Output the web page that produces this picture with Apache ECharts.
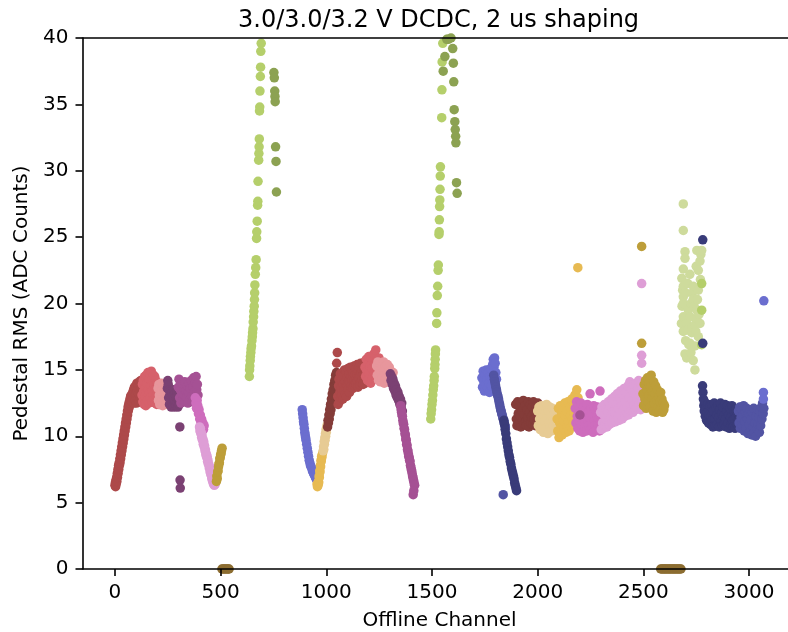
<!DOCTYPE html>
<html><head><meta charset="utf-8">
<script src="https://cdn.jsdelivr.net/npm/echarts@6/dist/echarts.min.js"></script>
<style>html,body{margin:0;padding:0;background:#fff;overflow:hidden}#c{width:788px;height:632px}</style>
</head><body><div id="c"></div>
<script>
// ---- tick labels ----
const xTicks = [0, 500, 1000, 1500, 2000, 2500, 3000];
const yTicks = [0, 5, 10, 15, 20, 25, 30, 35, 40];

// ---- data: [offline channel, pedestal RMS] ----
const seg01 = [[0,6.3],[2,6.5],[3,6.2],[5,6.7],[6,6.4],[8,6.9],[9,6.6],[11,7.2],[12,6.9],[14,7.5],[15,7.2],[17,7.8],[18,7.5],[20,8.0],[21,7.8],[23,8.3],[24,8.0],[26,8.6],[27,8.3],[29,8.9],[30,8.6],[32,9.2],[33,8.9],[35,9.5],[36,9.2],[38,9.8],[39,9.5],[41,10.1],[42,9.8],[44,10.4],[45,10.1],[47,10.7],[48,10.4],[50,11.0],[51,10.7],[53,11.3],[54,11.0],[56,11.6],[57,11.3],[59,11.9],[60,11.6],[62,12.2],[63,11.9],[65,12.4],[66,12.1],[68,12.6],[69,12.3],[71,12.8],[72,12.5],[74,13.0],[75,12.7],[77,13.1],[78,12.6],[80,13.0],[82,12.6],[84,13.3],[86,12.8],[88,13.5],[90,12.5],[92,13.7],[94,13.1],[96,12.7],[98,13.8],[100,13.2],[102,12.5],[104,14.0],[106,13.4],[108,12.8],[110,13.9],[112,13.2],[114,12.6],[116,14.1],[118,13.5],[120,12.9],[122,14.2],[124,13.6],[126,13.0]];
const seg02 = [[128,13.1],[130,13.9],[132,12.6],[134,14.2],[136,13.4],[138,12.4],[140,14.5],[142,13.0],[144,13.7],[146,12.3],[148,14.6],[150,13.3],[152,14.0],[154,12.7],[156,14.8],[158,13.5],[160,12.5],[162,14.3],[164,13.2],[166,14.7],[168,12.9],[170,13.8],[172,14.9],[174,13.4],[176,12.6],[178,14.4],[180,13.1],[182,14.6],[184,12.8],[186,13.9],[188,14.5],[190,12.5],[192,13.6],[194,14.2],[196,13.0],[198,12.4],[200,14.0],[202,13.3],[204,12.7],[206,13.8],[208,12.4],[210,13.5],[212,12.9]];
const seg03 = [[204,13.6],[206,12.7],[208,13.9],[210,13.1],[212,12.4],[214,13.7],[216,13.3],[218,12.6],[220,14.0],[222,12.9],[224,13.5],[226,12.3],[228,13.8],[230,13.0],[232,12.5],[234,13.6],[236,12.8],[238,13.9],[240,13.2],[242,12.4],[244,13.7],[246,12.9],[248,13.4],[250,12.6],[252,13.8],[254,13.1],[256,12.5],[258,13.3]];
const seg04 = [[248,13.6],[250,14.2],[252,13.9],[254,12.9],[256,13.5],[258,12.4],[260,13.1],[262,12.7],[264,13.4],[266,12.2],[268,12.9],[270,13.3],[272,12.5],[274,13.0],[276,12.3],[278,13.5],[280,12.8],[282,12.2],[284,13.2],[286,12.6],[288,13.0],[290,12.3],[292,12.9],[294,13.4],[296,12.5],[298,12.2],[300,12.8],[302,13.1],[304,12.4],[306,12.7],[307,10.7],[308,6.7],[309,6.1]];
const seg05 = [[300,13.7],[303,14.3],[306,12.9],[309,13.5],[312,12.5],[315,14.0],[318,13.2],[321,12.7],[324,13.9],[327,13.1],[330,14.1],[333,12.6],[336,13.4],[339,12.9],[342,13.8],[345,12.5],[348,13.3],[351,14.0],[354,12.8],[357,13.6],[360,14.2],[363,13.0],[366,12.6],[369,13.7],[372,14.4],[375,13.3],[378,12.9],[381,14.0],[384,14.5],[387,13.5],[390,13.9],[393,13.1]];
const seg06 = [[380,12.9],[383,12.5],[386,12.1],[389,12.7],[392,12.3],[395,11.7],[398,12.0],[401,11.3],[404,11.6],[407,11.0],[410,11.3],[413,10.7],[416,11.0],[419,10.5],[422,10.8]];
const seg07 = [[400,10.7],[402,10.4],[404,10.6],[406,10.2],[408,10.3],[410,9.9],[412,10.1],[414,9.7],[416,9.8],[418,9.4],[420,9.6],[422,9.2],[424,9.3],[426,8.9],[428,9.0],[430,8.6],[432,8.7],[434,8.4],[436,8.5],[438,8.1],[440,8.2],[442,7.9],[444,7.9],[446,7.6],[448,7.7],[450,7.3],[452,7.4],[454,7.1],[456,7.1],[458,6.8],[460,6.9],[462,6.6],[464,6.7],[466,6.4],[468,6.5],[470,6.3],[472,6.5],[475,6.4],[478,6.8]];
const seg08 = [[480,6.6],[482,7.0],[484,6.8],[486,7.3],[488,7.4],[490,7.7],[492,7.9],[494,8.0],[496,8.3],[498,8.4],[500,8.6],[502,8.7],[504,8.9],[507,9.1]];
const seg09 = [[506,0],[512,0],[518,0],[524,0],[530,0],[536,0],[540,0]];
const seg10 = [[636,14.5],[637,15.0],[638,15.3],[640,15.7],[641,16.0],[643,16.3],[644,16.6],[646,16.8],[648,17.2],[650,17.5],[651,17.8],[653,18.1],[654,18.6],[656,19.0],[657,19.4],[659,19.8],[660,20.3],[661,20.8],[662,21.4],[664,22.2],[666,22.7],[668,23.3],[670,24.9],[671,25.4],[673,26.2],[675,27.4],[676,27.7],[677,29.2],[680,30.8],[681,31.3],[682,31.8],[683,32.4],[684,34.5],[685,34.8],[686,36.0],[688,37.1],[689,37.8],[690,39.0],[692,39.6],[694,40.1]];
const seg11 = [[748,40.1],[752,37.4],[754,37.0],[756,36.0],[757,35.6],[758,35.2],[760,31.8],[762,30.7],[764,28.4]];
const seg12 = [[886,12.0],[888,11.7],[890,11.4],[892,11.1],[894,10.9],[896,10.6],[898,10.3],[900,10.1],[902,9.9],[904,9.7],[907,9.4],[910,9.1],[913,8.8],[916,8.5],[919,8.2],[922,8.0],[925,7.8],[928,7.7],[931,7.6],[934,7.4],[937,7.3],[940,7.2],[943,7.1],[946,7.0],[949,6.9],[952,6.8],[955,6.7],[958,6.6]];
const seg13 = [[956,6.4],[958,6.2],[961,6.3],[963,6.6],[964,6.5],[966,7.0],[967,6.9],[969,7.4],[970,7.3],[972,7.8],[973,7.7],[975,8.2],[976,8.1],[978,8.5],[979,8.4],[982,8.7]];
const seg14 = [[985,8.9],[987,9.2],[988,9.0],[990,9.6],[991,9.4],[993,9.9],[994,9.7],[996,10.2],[997,10.0],[999,10.5],[1000,10.3],[1003,10.8]];
const seg15 = [[1006,10.7],[1008,11.2],[1010,11.0],[1012,11.6],[1014,11.3],[1016,12.0],[1018,11.7],[1020,12.4],[1022,12.0],[1024,12.8],[1026,12.4],[1028,13.2],[1030,12.8],[1032,13.5],[1034,13.1],[1036,13.9],[1038,13.5],[1040,14.2],[1042,13.8],[1044,14.6],[1046,14.2],[1048,14.8]];
const seg16 = [[1049,15.5],[1052,16.3],[1054,13.0],[1056,12.4],[1058,13.8],[1060,14.3],[1062,12.6],[1064,13.3],[1066,14.7],[1068,12.9],[1070,13.6],[1072,14.2],[1074,13.1],[1076,14.8],[1078,12.8],[1080,13.9],[1082,14.5],[1084,13.4],[1086,15.0],[1088,13.2],[1090,14.1],[1092,13.7],[1094,14.9],[1096,13.0],[1098,14.4],[1100,13.8],[1102,15.1],[1104,13.5],[1106,14.2],[1108,14.7],[1110,13.3],[1112,14.0],[1114,15.2],[1116,13.7],[1118,14.5],[1120,13.9],[1122,15.0],[1124,14.3],[1126,13.6],[1128,14.8],[1130,14.1],[1132,15.3],[1134,13.8],[1136,14.6],[1138,14.0],[1140,15.1],[1142,13.9],[1144,14.7],[1146,15.4],[1148,14.2],[1150,13.7],[1152,14.9],[1154,14.4],[1156,15.2],[1158,13.9],[1160,14.6],[1162,15.5],[1164,14.1],[1166,14.8],[1168,15.0],[1170,14.3],[1172,15.4],[1174,13.9],[1176,14.7],[1178,15.1],[1180,14.4],[1182,15.6],[1184,14.0],[1186,14.9],[1188,15.3],[1190,14.5],[1192,14.1],[1194,15.0],[1196,14.6],[1198,15.2],[1200,14.3]];
const seg17 = [[1183,15.2],[1186,14.5],[1189,15.8],[1192,14.9],[1195,14.2],[1198,15.5],[1201,16.0],[1204,14.7],[1207,15.3],[1210,14.0],[1213,15.9],[1216,15.1],[1219,14.4],[1222,15.7],[1225,16.2],[1228,14.8],[1231,15.4],[1234,16.5],[1237,14.3],[1240,15.6],[1243,15.0],[1246,14.6],[1249,15.9],[1252,14.9]];
const seg18 = [[1238,15.3],[1241,14.6],[1244,15.6],[1247,14.2],[1250,15.0],[1253,15.5],[1256,14.1],[1259,14.8],[1262,15.4],[1265,14.4],[1268,15.1],[1271,15.6],[1274,14.0],[1277,14.7],[1280,15.3],[1283,14.3],[1286,14.9],[1289,15.4],[1292,14.1],[1295,14.7],[1298,15.2],[1301,14.4],[1304,14.9],[1307,14.0],[1310,14.6],[1313,14.2],[1316,14.8]];
const seg19 = [[1303,14.7],[1306,14.2],[1309,14.5],[1312,13.9],[1315,14.3],[1318,13.6],[1321,14.0],[1324,13.4],[1327,13.8],[1330,13.1],[1333,13.5],[1336,12.9],[1339,13.3],[1342,12.7],[1345,13.0],[1348,12.4],[1351,12.8],[1354,12.2],[1357,12.5],[1360,11.9]];
const seg20 = [[1352,12.3],[1354,12.0],[1356,11.8],[1358,11.6],[1360,11.5],[1362,11.2],[1364,11.0],[1366,10.9],[1368,10.6],[1370,10.5],[1372,10.2],[1374,10.1],[1376,9.8],[1378,9.7],[1380,9.4],[1382,9.3],[1384,9.0],[1386,8.9],[1388,8.7],[1390,8.5],[1392,8.4],[1394,8.2],[1396,8.1],[1398,7.8],[1400,7.7],[1402,7.5],[1404,7.4],[1406,7.2],[1408,7.0],[1410,6.9],[1412,6.7],[1414,6.6],[1416,6.4],[1418,6.3],[1411,5.6],[1414,5.9]];
const seg21 = [[1494,11.3],[1496,11.7],[1498,12.0],[1500,12.4],[1502,12.7],[1504,13.1],[1506,13.5],[1508,13.8],[1510,14.2],[1511,14.5],[1513,15.1],[1514,15.4],[1515,15.8],[1516,16.2],[1517,16.5],[1522,18.5],[1523,19.3],[1525,20.6],[1527,21.3],[1529,22.5],[1530,22.9],[1533,25.2],[1534,25.4],[1535,26.3],[1536,27.3],[1537,27.8],[1538,28.6],[1539,29.6],[1540,30.3],[1546,34.0],[1547,36.1],[1548,38.2],[1551,39.6]];
const seg22 = [[1553,37.5],[1561,38.6],[1570,39.9],[1577,39.9],[1590,40.0],[1598,39.2],[1601,38.1],[1603,36.7],[1605,34.6],[1608,33.7],[1610,33.1],[1612,32.6],[1613,32.1],[1616,29.1],[1619,28.3]];
const seg23 = [[1736,14.4],[1739,13.7],[1742,14.9],[1745,14.1],[1748,13.4],[1751,14.6],[1754,13.9],[1757,15.0],[1760,14.3],[1763,13.6],[1766,14.8],[1769,14.0],[1772,13.3],[1775,14.5],[1778,15.1],[1781,13.8],[1784,14.4],[1787,15.4],[1790,15.8],[1793,15.2],[1796,15.9],[1799,15.5],[1802,14.8],[1805,14.3]];
const seg24 = [[1792,14.6],[1795,14.3],[1797,14.1],[1800,13.9],[1802,13.7],[1805,13.5],[1807,13.3],[1810,13.1],[1812,13.0],[1815,12.8],[1817,12.6],[1820,12.4],[1822,12.2],[1825,12.0],[1827,11.9],[1830,11.7],[1832,11.6],[1835,11.4],[1837,11.3],[1840,11.1],[1842,11.0],[1845,10.8],[1847,10.7],[1837,5.6]];
const seg25 = [[1840,11.2],[1843,10.9],[1846,10.5],[1849,10.2],[1852,9.8],[1855,9.5],[1858,9.2],[1861,8.9],[1864,8.6],[1867,8.4],[1870,8.1],[1873,7.9],[1876,7.6],[1879,7.4],[1882,7.2],[1885,7.0],[1888,6.8],[1891,6.5],[1894,6.3],[1897,6.1],[1900,5.9]];
const seg26 = [[1896,12.4],[1899,11.3],[1902,10.8],[1905,12.6],[1908,11.7],[1911,11.0],[1914,12.2],[1917,11.5],[1920,10.7],[1923,12.5],[1926,11.9],[1929,11.2],[1932,12.7],[1935,10.9],[1938,11.6],[1941,12.3],[1944,11.1],[1947,10.8],[1950,12.0],[1953,11.4],[1956,12.6],[1959,10.7],[1962,11.8],[1965,12.4],[1968,11.0],[1971,11.5],[1974,12.2],[1977,10.9],[1980,12.6],[1983,11.3],[1986,11.9],[1989,10.8],[1992,12.3],[1995,11.6],[1998,11.0],[2001,12.5],[2004,11.2],[2007,11.8],[2010,10.9],[2013,12.1],[2016,11.4]];
const seg27 = [[2000,11.9],[2003,10.8],[2006,12.2],[2009,11.3],[2012,10.5],[2015,11.7],[2018,12.3],[2021,10.9],[2024,11.5],[2027,10.3],[2030,12.0],[2033,11.1],[2036,11.8],[2039,10.6],[2042,12.4],[2045,11.4],[2048,10.2],[2051,11.9],[2054,11.0],[2057,12.2],[2060,10.7],[2063,11.6],[2066,10.4],[2069,12.1],[2072,11.2],[2075,10.8],[2078,11.9],[2081,10.5],[2084,12.0],[2087,11.3],[2090,10.9]];
const seg28 = [[2092,11.3],[2095,10.4],[2098,12.1],[2101,9.9],[2104,11.0],[2107,12.3],[2110,10.6],[2113,11.7],[2116,10.1],[2119,12.0],[2122,11.2],[2125,10.5],[2128,12.5],[2131,11.5],[2134,10.3],[2137,11.9],[2140,10.8],[2143,12.6],[2146,11.1],[2149,10.4],[2152,12.2],[2155,11.6],[2158,10.7],[2161,12.8],[2164,11.3],[2167,10.9],[2170,12.4],[2173,11.8],[2176,13.1],[2179,11.0],[2182,12.6],[2185,13.5],[2188,11.7],[2190,22.7],[2191,12.9],[2194,11.2],[2197,12.3],[2200,11.6]];
const seg29 = [[2178,12.1],[2181,11.0],[2184,12.6],[2187,11.5],[2190,10.6],[2193,12.3],[2196,11.2],[2199,10.4],[2202,11.8],[2205,12.5],[2208,10.9],[2211,11.6],[2214,10.3],[2217,12.2],[2220,11.3],[2223,10.7],[2226,12.0],[2229,11.5],[2232,10.4],[2235,12.4],[2238,11.1],[2241,10.8],[2244,11.9],[2247,11.4],[2248,13.2],[2250,10.5],[2253,12.1],[2256,11.0],[2259,11.7],[2262,10.3],[2265,12.3],[2268,11.2],[2271,10.8],[2274,11.9],[2277,10.5],[2280,11.5],[2283,12.2],[2286,10.9],[2289,11.3],[2292,10.4],[2295,11.8],[2295,13.4],[2298,11.1],[2301,10.6],[2304,11.5],[2307,10.9],[2310,11.3],[2313,10.7]];
const seg30 = [[2200,11.6]];
const seg31 = [[2298,11.8],[2301,10.5],[2304,12.2],[2307,11.0],[2310,10.6],[2313,11.6],[2316,12.4],[2319,10.8],[2322,11.3],[2325,12.0],[2328,10.7],[2331,11.9],[2334,12.6],[2337,11.1],[2340,10.9],[2343,12.3],[2346,11.5],[2349,12.8],[2352,11.0],[2355,11.8],[2358,12.5],[2361,11.3],[2364,13.0],[2367,11.7],[2370,11.1],[2373,12.4],[2376,13.2],[2379,11.5],[2382,12.1],[2385,11.2],[2388,12.9],[2391,13.4],[2394,11.6],[2397,12.3],[2400,11.3],[2403,13.1],[2406,12.0],[2409,13.6],[2412,11.5],[2415,12.6],[2418,13.3],[2421,11.8],[2424,12.2],[2427,13.8],[2430,11.6],[2433,12.9],[2436,14.1],[2439,12.4],[2442,11.9],[2445,13.5],[2448,12.7],[2451,11.8],[2454,13.9],[2457,12.3],[2460,13.2],[2463,12.0],[2466,14.0],[2469,12.8],[2472,12.1],[2475,13.6],[2478,14.2],[2481,12.5],[2484,13.1],[2487,12.0],[2490,13.8],[2492,21.5],[2492,16.1],[2492,15.5],[2493,12.6],[2496,13.3]];
const seg32 = [[2492,24.3],[2492,17.0],[2498,13.2],[2501,12.3],[2504,13.9],[2507,12.8],[2510,14.2],[2513,12.1],[2516,13.5],[2519,14.4],[2522,12.6],[2525,13.1],[2528,14.0],[2531,12.2],[2534,13.7],[2537,14.6],[2540,12.9],[2543,13.4],[2546,11.9],[2549,14.1],[2552,12.5],[2555,13.2],[2558,13.8],[2561,11.8],[2564,12.7],[2567,13.5],[2570,12.2],[2573,13.0],[2576,11.9],[2579,12.6],[2582,13.3],[2585,12.1],[2588,12.8],[2591,11.8],[2594,12.5],[2597,12.0],[2600,12.3]];
const seg33 = [[2582,0],[2588,0],[2594,0],[2600,0],[2606,0],[2612,0],[2618,0],[2624,0],[2630,0],[2636,0],[2642,0],[2648,0],[2654,0],[2660,0],[2666,0],[2672,0],[2678,0]];
const seg34 = [[2680,18.5],[2682,21.9],[2683,19.8],[2686,21.0],[2689,27.5],[2689,25.5],[2689,22.6],[2689,21.3],[2689,20.5],[2689,20.0],[2689,19.0],[2689,17.9],[2697,23.9],[2697,23.4],[2697,16.2],[2700,20.8],[2700,17.2],[2705,18.5],[2705,15.9],[2710,21.5],[2710,18.0],[2713,19.5],[2715,16.9],[2720,22.2],[2721,19.0],[2721,17.0],[2725,20.0],[2725,16.3],[2729,17.8],[2730,18.2],[2732,20.8],[2736,21.3],[2736,20.3],[2736,15.7],[2740,19.8],[2744,18.4],[2744,16.8],[2744,15.0],[2748,17.9],[2750,22.8],[2753,24.0],[2753,19.5],[2753,18.9],[2756,20.3],[2760,22.5],[2760,21.0],[2760,17.5],[2764,19.2],[2768,23.2],[2768,18.5],[2770,21.8],[2772,23.7],[2776,24.0]];
const seg35 = [[2776,21.5],[2776,19.5],[2776,16.9]];
const seg36 = [[2781,24.8],[2781,17.0],[2780,13.8],[2782,13.3],[2784,12.8],[2786,12.3],[2788,11.9],[2790,12.6],[2793,11.5],[2796,12.1],[2799,11.2],[2802,11.8],[2805,12.4],[2808,11.0],[2811,11.6],[2814,12.3],[2817,10.9],[2820,11.5],[2823,12.4],[2826,11.2],[2829,10.7],[2832,11.9],[2835,12.5],[2838,11.3],[2841,10.8],[2844,12.1],[2847,11.6],[2850,10.9],[2853,12.3],[2856,11.4],[2859,10.7],[2862,12.0],[2865,12.5],[2868,11.1],[2871,11.7],[2874,10.8],[2877,12.2],[2880,11.5],[2883,10.9],[2886,12.4],[2889,11.3],[2892,10.7],[2895,11.9],[2898,12.3],[2901,11.0],[2904,11.6],[2907,10.6],[2910,12.1],[2913,11.4],[2916,10.8],[2919,12.3],[2922,11.2],[2925,10.7],[2928,11.9],[2931,11.3],[2934,10.6],[2937,12.0],[2940,11.5],[2943,10.9],[2946,11.7],[2949,11.2]];
const seg37 = [[2950,11.9],[2953,11.0],[2956,12.2],[2959,10.6],[2962,11.4],[2965,12.0],[2968,10.8],[2971,11.6],[2974,12.3],[2977,10.4],[2980,11.1],[2983,11.8],[2986,10.6],[2989,12.1],[2992,11.3],[2995,10.2],[2998,11.7],[3001,10.9],[3004,12.0],[3007,10.4],[3010,11.3],[3013,10.1],[3016,11.8],[3019,10.7],[3022,12.1],[3025,10.3],[3028,11.0],[3031,10.0],[3034,11.5],[3037,10.6],[3040,12.0],[3043,10.9],[3046,11.4],[3049,10.3],[3052,11.9],[3055,10.8],[3058,12.2],[3061,11.3],[3064,12.5],[3067,11.7],[3070,12.1]];
const seg38 = [[3068,13.3],[3068,12.8],[3070,20.2]];

// ---- colours (tab20b) ----
const groups = [
  [seg01,'#ad494a'],[seg02,'#d6616b'],[seg03,'#e7969c'],[seg04,'#7b4173'],[seg05,'#a55194'],
  [seg06,'#ce6dbd'],[seg07,'#de9ed6'],[seg08,'#bd9e39'],[seg09,'#8c6d31'],[seg10,'#b5cf6b'],
  [seg11,'#8ca252'],[seg12,'#6b6ecf'],[seg13,'#e7ba52'],[seg14,'#e7cb94'],[seg15,'#843c39'],
  [seg16,'#ad494a'],[seg17,'#d6616b'],[seg18,'#e7969c'],[seg19,'#7b4173'],[seg20,'#a55194'],
  [seg21,'#b5cf6b'],[seg22,'#8ca252'],[seg23,'#6b6ecf'],[seg24,'#5254a3'],[seg25,'#393b79'],
  [seg26,'#843c39'],[seg27,'#e7cb94'],[seg28,'#e7ba52'],[seg29,'#ce6dbd'],[seg30,'#a55194'],
  [seg31,'#de9ed6'],[seg32,'#bd9e39'],[seg33,'#8c6d31'],[seg34,'#cedb9c'],[seg35,'#b5cf6b'],
  [seg36,'#393b79'],[seg37,'#5254a3'],[seg38,'#6b6ecf']
];

const FONT = 'DejaVu Sans';
const chart = echarts.init(document.getElementById('c'), null, {renderer: 'canvas'});
const xMin = -153.55, xMax = 3224.55;
chart.setOption({
  animation: false,
  backgroundColor: '#fff',
  title: {
    text: '3.0/3.0/3.2 V DCDC, 2 us shaping',
    left: 233, top: 4,
    textStyle: {fontFamily: FONT, fontSize: 24, fontWeight: 'normal', color: '#000'}
  },
  grid: {left: 82.5, top: 38, width: 714, height: 531, outerBoundsMode: 'none', containLabel: false},
  xAxis: [{
    type: 'value', min: xMin, max: xMax, z: 5,
    name: 'Offline Channel', nameLocation: 'middle', nameGap: 42,
    nameTextStyle: {fontFamily: FONT, fontSize: 20, color: '#000'},
    axisLine: {show: true, onZero: false, lineStyle: {color: '#000', width: 1.6}},
    axisTick: {show: true, length: 7, customValues: xTicks, lineStyle: {color: '#000', width: 1.6}},
    axisLabel: {customValues: xTicks, fontFamily: FONT, fontSize: 20, color: '#000', margin: 14,
      formatter: v => String(v)},
    splitLine: {show: false}
  }, {
    type: 'value', min: xMin, max: xMax, position: 'top', z: 5,
    axisLine: {show: true, onZero: false, lineStyle: {color: '#000', width: 1.6}},
    axisTick: {show: false}, axisLabel: {show: false}, splitLine: {show: false}
  }],
  yAxis: {
    type: 'value', min: 0, max: 40, interval: 5, z: 5,
    name: 'Pedestal RMS (ADC Counts)', nameLocation: 'middle', nameGap: 50,
    nameTextStyle: {fontFamily: FONT, fontSize: 20, color: '#000'},
    axisLine: {show: true, onZero: false, lineStyle: {color: '#000', width: 1.6}},
    axisTick: {show: true, length: 7, lineStyle: {color: '#000', width: 1.6}},
    axisLabel: {fontFamily: FONT, fontSize: 20, color: '#000', margin: 14,
      formatter: v => (yTicks.indexOf(v) >= 0 ? String(v) : '')},
    splitLine: {show: false}
  },
  series: groups.map(([data, color]) => ({
    type: 'scatter', data: data, xAxisIndex: 0, yAxisIndex: 0,
    symbol: 'circle', symbolSize: 9.5, clip: true, silent: true,
    itemStyle: {color: color, opacity: 1}
  }))
});
</script>
</body></html>
